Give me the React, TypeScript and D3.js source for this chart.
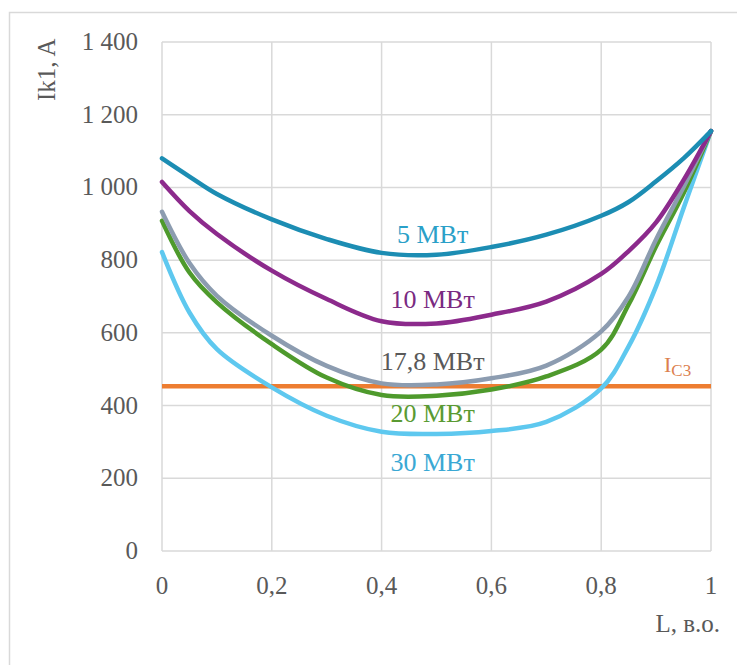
import React, { useEffect, useRef } from 'react';
import * as d3 from 'd3';

// Data
const lengths = [0, 0.05, 0.1, 0.2, 0.3, 0.4, 0.5, 0.6, 0.7, 0.8, 0.85, 0.9, 0.95, 1];
const current5 = [1080, 1030, 982, 912, 858, 820, 815, 836, 870, 922, 960, 1017, 1080, 1155];
const current10 = [1015, 935, 872, 771, 693, 632, 626, 650, 686, 762, 825, 904, 1020, 1155];
const current178 = [933, 792, 702, 592, 509, 461, 458, 475, 510, 604, 700, 857, 1001, 1155];
const current20 = [908, 766, 684, 569, 477, 429, 427, 444, 480, 554, 678, 838, 984, 1155];
const current30 = [822, 656, 555, 450, 372, 328, 322, 330, 355, 447, 563, 728, 943, 1155];
const settingCurrent = 453;
const seriesNames = ['5 МВт', '10 МВт', '17,8 МВт', '20 МВт', '30 МВт'];
const xTicks = [0, 0.2, 0.4, 0.6, 0.8, 1];
const yTicks = [0, 200, 400, 600, 800, 1000, 1200, 1400];

function App() {
  const chartRef = useRef<HTMLDivElement>(null);

  useEffect(() => {
    const width = 737;
    const height = 665;
    const margin = { top: 42, right: 26, bottom: 114, left: 162 };

    d3.select(chartRef.current).select('svg').remove();

    const svg = d3
      .select(chartRef.current)
      .append('svg')
      .attr('width', width)
      .attr('height', height)
      .style('position', 'absolute')
      .style('left', 0)
      .style('top', 0)
      .style('background', '#fff');

    // outer chart frame
    svg
      .append('rect')
      .attr('x', 9.5)
      .attr('y', 12.5)
      .attr('width', width)
      .attr('height', height)
      .attr('fill', 'none')
      .attr('stroke', '#d9d9d9')
      .attr('stroke-width', 1.5);

    const x = d3.scaleLinear().domain([0, 1]).range([margin.left, width - margin.right]);
    const y = d3.scaleLinear().domain([0, 1400]).range([height - margin.bottom, margin.top]);

    const locale = d3.formatLocale({ decimal: ',', thousands: ' ', grouping: [3], currency: ['', ''] });
    const fmtY = locale.format(',d');
    const fmtX = (d: number) => String(d).replace('.', ',');

    const font = 'Liberation Serif, Tinos, Times New Roman, DejaVu Serif, serif';

    // grid
    svg
      .append('g')
      .selectAll('line')
      .data(yTicks)
      .join('line')
      .attr('x1', x(0))
      .attr('x2', x(1))
      .attr('y1', (d) => y(d))
      .attr('y2', (d) => y(d))
      .attr('stroke', '#d9d9d9')
      .attr('stroke-width', 1.5);

    svg
      .append('g')
      .selectAll('line')
      .data(xTicks)
      .join('line')
      .attr('x1', (d) => x(d))
      .attr('x2', (d) => x(d))
      .attr('y1', y(0))
      .attr('y2', y(1400))
      .attr('stroke', '#d9d9d9')
      .attr('stroke-width', 1.5);

    // tick labels
    svg
      .append('g')
      .selectAll('text')
      .data(yTicks)
      .join('text')
      .attr('x', x(0) - 24)
      .attr('y', (d) => y(d) + 8)
      .attr('text-anchor', 'end')
      .attr('font-family', font)
      .attr('font-size', 25)
      .attr('fill', '#595959')
      .text((d) => fmtY(d));

    svg
      .append('g')
      .selectAll('text')
      .data(xTicks)
      .join('text')
      .attr('x', (d) => x(d))
      .attr('y', y(0) + 43)
      .attr('text-anchor', 'middle')
      .attr('font-family', font)
      .attr('font-size', 25)
      .attr('fill', '#595959')
      .text((d) => fmtX(d));

    // axis titles
    svg
      .append('text')
      .attr('transform', 'translate(55,101) rotate(-90)')
      .attr('text-anchor', 'start')
      .attr('font-family', font)
      .attr('font-size', 25)
      .attr('fill', '#595959')
      .text('Ik1, A');

    svg
      .append('text')
      .attr('x', 720)
      .attr('y', 632)
      .attr('text-anchor', 'end')
      .attr('font-family', font)
      .attr('font-size', 25)
      .attr('fill', '#595959')
      .text('L, в.о.');

    // setting current line
    svg
      .append('line')
      .attr('x1', x(0))
      .attr('x2', x(1))
      .attr('y1', y(settingCurrent))
      .attr('y2', y(settingCurrent))
      .attr('stroke', '#ed7d31')
      .attr('stroke-width', 4.5);

    const series = [
      { values: current5, color: '#1c8db3', label: '#2aa0c8', ly: 848 },
      { values: current10, color: '#8c2a8c', label: '#7a2a82', ly: 668 },
      { values: current178, color: '#8c9cb0', label: '#595959', ly: 497 },
      { values: current20, color: '#4e9a2c', label: '#5a9a32', ly: 356 },
      { values: current30, color: '#5ec8ef', label: '#3aa8d4', ly: 221 },
    ];

    const line = d3
      .line<number>()
      .x((d, i) => x(lengths[i]))
      .y((d) => y(d))
      .curve(d3.curveCatmullRom.alpha(0.5));

    // draw bottom series first so 5 MW ends on top like the original
    [...series].reverse().forEach((s) => {
      svg
        .append('path')
        .datum(s.values)
        .attr('fill', 'none')
        .attr('stroke', s.color)
        .attr('stroke-width', 4.5)
        .attr('stroke-linecap', 'round')
        .attr('d', line);
    });

    series.forEach((s, i) => {
      svg
        .append('text')
        .attr('x', x(0.493))
        .attr('y', y(s.ly))
        .attr('text-anchor', 'middle')
        .attr('font-family', font)
        .attr('font-size', 26)
        .attr('fill', s.label)
        .text(seriesNames[i]);
    });

    const ics = svg
      .append('text')
      .attr('x', 664)
      .attr('y', 372)
      .attr('font-family', font)
      .attr('fill', '#dc7f4f');
    ics.append('tspan').attr('font-size', 22).text('I');
    ics.append('tspan').attr('font-size', 17).attr('dy', 4).text('C3');
  }, []);

  return <div ref={chartRef}></div>;
}

export default App;
